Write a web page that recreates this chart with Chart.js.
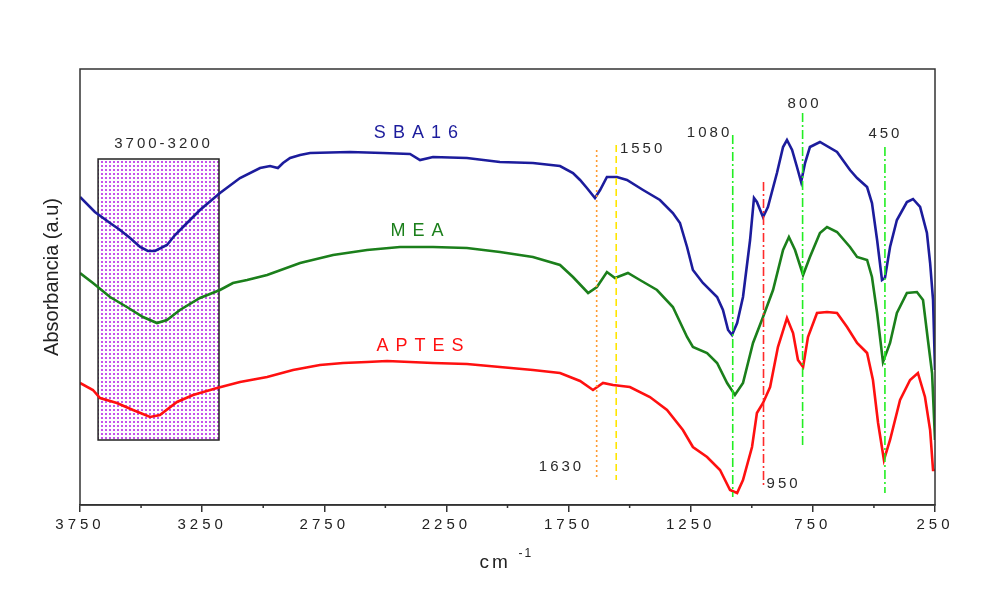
<!DOCTYPE html>
<html>
<head>
<meta charset="utf-8">
<title>FTIR spectra</title>
<script src="https://cdn.jsdelivr.net/npm/chart.js@4.4.1/dist/chart.umd.min.js"></script>
<style>
  html, body { margin: 0; padding: 0; background: #fff; }
  #wrap { width: 992px; height: 592px; }
</style>
</head>
<body>
<div id="wrap"><canvas id="ftirChart" width="992" height="592"></canvas></div>
<script>
// wavenumber (cm-1) and absorbance (a.u, offset)
const sbaWn = [3750,3689,3627,3586,3545,3504,3472,3443,3394,3361,3320,3259,3177,3095,3013,2972,2940,2919,2890,2849,2808,2645,2510,2399,2358,2305,2166,2031,1896,1785,1732,1703,1675,1642,1621,1593,1552,1511,1445,1376,1323,1294,1265,1241,1200,1142,1118,1097,1081,1060,1036,1007,991,979,954,934,897,872,856,835,815,798,782,762,721,651,598,569,528,508,487,467,455,434,406,365,340,311,283,270,258,250];
const sbaAbs = [3.08,2.93,2.82,2.75,2.67,2.58,2.54,2.54,2.60,2.70,2.80,2.95,3.12,3.27,3.37,3.39,3.37,3.42,3.47,3.50,3.52,3.53,3.52,3.51,3.45,3.48,3.47,3.43,3.42,3.39,3.32,3.25,3.17,3.07,3.15,3.28,3.28,3.25,3.15,3.05,2.92,2.82,2.58,2.35,2.22,2.08,1.95,1.75,1.70,1.82,2.08,2.65,3.07,3.03,2.88,2.98,3.32,3.58,3.65,3.55,3.38,3.23,3.42,3.58,3.63,3.53,3.35,3.27,3.18,3.02,2.65,2.25,2.27,2.58,2.85,3.03,3.06,2.98,2.72,2.42,2.05,1.35];

const meaWn = [3750,3697,3627,3558,3492,3435,3394,3341,3259,3177,3124,3066,2984,2849,2714,2575,2440,2305,2166,2031,1896,1785,1732,1670,1634,1593,1560,1507,1458,1388,1323,1265,1241,1183,1142,1101,1069,1036,995,954,913,872,848,823,790,762,721,692,651,598,569,528,508,487,463,434,406,365,324,299,279,262,250];
const meaAbs = [2.32,2.22,2.08,1.98,1.88,1.82,1.85,1.95,2.07,2.15,2.22,2.25,2.30,2.42,2.50,2.55,2.58,2.58,2.57,2.53,2.48,2.40,2.28,2.12,2.18,2.33,2.27,2.32,2.25,2.15,1.98,1.68,1.58,1.52,1.42,1.22,1.10,1.22,1.62,1.88,2.15,2.55,2.68,2.55,2.30,2.48,2.72,2.78,2.73,2.58,2.48,2.45,2.28,1.92,1.43,1.62,1.92,2.12,2.13,2.05,1.65,1.32,0.65];

const aptWn = [3750,3697,3668,3599,3533,3463,3423,3353,3287,3189,3095,2984,2878,2768,2673,2575,2493,2305,2166,2031,1896,1785,1703,1650,1609,1568,1499,1417,1347,1282,1241,1183,1130,1089,1060,1036,999,979,954,925,893,856,831,811,790,770,733,692,651,610,569,528,504,483,459,434,393,352,320,291,270,258,250];
const aptAbs = [1.22,1.15,1.07,1.02,0.95,0.88,0.90,1.03,1.10,1.17,1.23,1.28,1.35,1.40,1.42,1.43,1.44,1.42,1.41,1.38,1.35,1.32,1.24,1.15,1.22,1.20,1.18,1.08,0.95,0.75,0.58,0.48,0.35,0.15,0.12,0.25,0.58,0.92,1.02,1.18,1.58,1.87,1.72,1.45,1.38,1.68,1.92,1.93,1.92,1.78,1.62,1.52,1.25,0.82,0.45,0.65,1.05,1.25,1.32,1.08,0.75,0.35,0.35];

// band markers (vertical guide lines)
const markerWn = [1635, 1555, 1078, 952, 792, 455];
const markerTop = [3.55, 3.60, 3.70, 3.23, 3.92, 3.58];
const markerBottom = [0.27, 0.25, 0.08, 0.18, 0.60, 0.12];
const markerColor = ['#ff9a30', '#ffe600', '#22ee22', '#ff2a2a', '#22ee22', '#22ee22'];
const markerDash = [[2, 3], [7, 4], [9, 3, 2, 3], [9, 3, 2, 3], [9, 3, 2, 3], [9, 3, 2, 3]];

// annotations
const annoText = ['3700-3200', '1630', '1550', '1080', '950', '800', '450'];
const annoX = [3414, 1785, 1453, 1179, 876, 790, 459];
const annoY = [3.61, 0.38, 3.56, 3.72, 0.21, 4.01, 3.71];

const seriesNames = ['SBA16', 'MEA', 'APTES'];
const seriesColors = ['#1c1c9c', '#1b7f1b', '#ff1010'];
const nameX = [2375, 2370, 2358];
const nameY = [3.72, 2.74, 1.59];

// O-H band box
const boxWn = [3676, 3181];
const boxAbs = [3.46, 0.65];

const minorTicks = [3500, 3000, 2500, 2000, 1500, 1000, 500];

function toPoints(xs, ys) {
    return xs.map((x, i) => ({ x: x, y: ys[i] }));
}

function dotPattern(ctx) {
    let tile = document.createElement('canvas');
    tile.width = 4;
    tile.height = 4;
    let t = tile.getContext('2d');
    t.fillStyle = '#ffffff';
    t.fillRect(0, 0, 4, 4);
    t.fillStyle = '#c455ea';
    t.fillRect(1, 1, 2, 2);
    return ctx.createPattern(tile, 'repeat');
}

function spacedText(ctx, text, x, y, spacing) {
    ctx.letterSpacing = spacing + 'px';
    let w = ctx.measureText(text).width - spacing;
    ctx.textAlign = 'left';
    ctx.fillText(text, x - w / 2, y);
}

const decor = {
    id: 'ftirDecor',
    beforeDraw(chart) {
        chart.ctx.letterSpacing = '4px'; // wide tick labels like the original
    },
    beforeDatasetsDraw(chart) {
        let ctx = chart.ctx;
        let xs = chart.scales.x, ys = chart.scales.y;
        let x1 = xs.getPixelForValue(boxWn[0]), x2 = xs.getPixelForValue(boxWn[1]);
        let y1 = ys.getPixelForValue(boxAbs[0]), y2 = ys.getPixelForValue(boxAbs[1]);
        ctx.save();
        ctx.fillStyle = dotPattern(ctx);
        ctx.fillRect(x1, y1, x2 - x1, y2 - y1);
        ctx.strokeStyle = '#222';
        ctx.lineWidth = 1.5;
        ctx.strokeRect(x1, y1, x2 - x1, y2 - y1);
        ctx.restore();
    },
    afterDatasetsDraw(chart) {
        let ctx = chart.ctx;
        let a = chart.chartArea;
        let xs = chart.scales.x, ys = chart.scales.y;
        ctx.save();
        // frame
        ctx.strokeStyle = '#333';
        ctx.lineWidth = 1.5;
        ctx.strokeRect(a.left, a.top, a.right - a.left, a.bottom - a.top);
        // minor ticks
        ctx.beginPath();
        minorTicks.forEach(v => {
            let px = xs.getPixelForValue(v);
            ctx.moveTo(px, a.bottom);
            ctx.lineTo(px, a.bottom + 3);
        });
        ctx.stroke();

        ctx.textBaseline = 'middle';
        // band labels
        ctx.fillStyle = '#2a2a2a';
        ctx.font = '15px Arial, "Liberation Sans", sans-serif';
        annoText.forEach((txt, i) => {
            spacedText(ctx, txt, xs.getPixelForValue(annoX[i]), ys.getPixelForValue(annoY[i]), 3);
        });
        // series names
        ctx.font = '18px Arial, "Liberation Sans", sans-serif';
        seriesNames.forEach((txt, i) => {
            ctx.fillStyle = seriesColors[i];
            spacedText(ctx, txt, xs.getPixelForValue(nameX[i]), ys.getPixelForValue(nameY[i]), 7);
        });
        // x title: cm^-1
        ctx.fillStyle = '#222';
        ctx.textBaseline = 'alphabetic';
        let cx = (a.left + a.right) / 2;
        ctx.font = '19px Arial, "Liberation Sans", sans-serif';
        ctx.letterSpacing = '3px';
        ctx.textAlign = 'left';
        ctx.fillText('cm', cx - 28, 568);
        ctx.font = '12px Arial, "Liberation Sans", sans-serif';
        ctx.letterSpacing = '2px';
        ctx.fillText('-1', cx + 11, 557);
        // y title
        ctx.letterSpacing = '0px';
        ctx.font = '20px Arial, "Liberation Sans", sans-serif';
        ctx.translate(52, 277);
        ctx.rotate(-Math.PI / 2);
        ctx.textAlign = 'center';
        ctx.textBaseline = 'middle';
        ctx.fillText('Absorbancia (a.u)', 0, 0);
        ctx.restore();
    }
};

let datasets = [];
markerWn.forEach((wn, i) => {
    datasets.push({
        data: [{ x: wn, y: markerTop[i] }, { x: wn, y: markerBottom[i] }],
        borderColor: markerColor[i],
        borderWidth: 1.6,
        borderDash: markerDash[i],
        pointRadius: 0,
        order: 0
    });
});
[[sbaWn, sbaAbs], [meaWn, meaAbs], [aptWn, aptAbs]].forEach((s, i) => {
    datasets.push({
        label: seriesNames[i],
        data: toPoints(s[0], s[1]),
        borderColor: seriesColors[i],
        borderWidth: 2.6,
        pointRadius: 0,
        tension: 0,
        order: 1
    });
});

new Chart(document.getElementById('ftirChart').getContext('2d'), {
    type: 'line',
    data: { datasets: datasets },
    options: {
        responsive: false,
        animation: false,
        devicePixelRatio: 1,
        layout: { padding: { left: 80, right: 57, top: 69, bottom: 57 } },
        plugins: { legend: { display: false }, tooltip: { enabled: false } },
        scales: {
            x: {
                type: 'linear',
                min: 250,
                max: 3750,
                reverse: true,
                afterFit: s => { s.height = 30; },
                ticks: {
                    stepSize: 500,
                    autoSkip: false,
                    maxRotation: 0,
                    padding: 4,
                    color: '#222',
                    font: { family: 'Arial, "Liberation Sans", sans-serif', size: 15 },
                    callback: v => String(v)
                },
                grid: { drawOnChartArea: false, drawTicks: true, tickLength: 7, color: '#333', lineWidth: 1.5 },
                border: { display: true, color: '#333', width: 1.5 }
            },
            y: {
                display: false,
                min: 0,
                max: 4.36
            }
        }
    },
    plugins: [decor]
});
</script>
</body>
</html>
